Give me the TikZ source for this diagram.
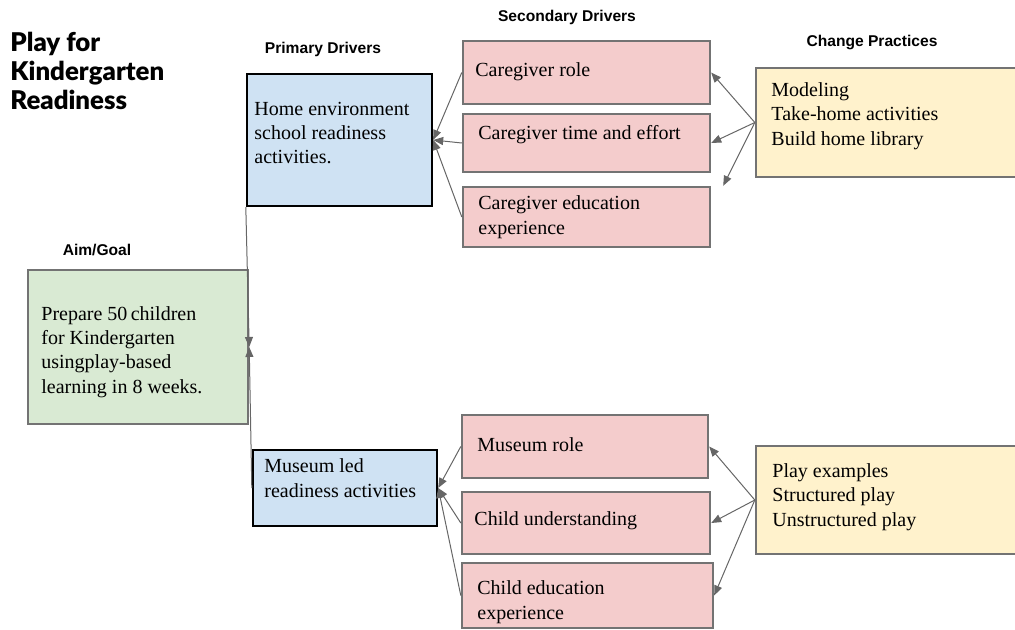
\documentclass[tikz,border=0pt]{standalone}
\usepackage{fontspec}
\setmainfont{Liberation Serif}
\newfontfamily\headfont{Liberation Sans}
\newfontfamily\titlefont{Lato Black}
\usetikzlibrary{arrows.meta}

\definecolor{aimfill}{HTML}{D9EAD3}
\definecolor{primfill}{HTML}{CFE2F3}
\definecolor{secfill}{HTML}{F4CCCC}
\definecolor{chgfill}{HTML}{FFF2CC}
\definecolor{boxgray}{HTML}{737373}
\definecolor{linegray}{HTML}{666666}

\tikzset{
  box/.style={draw, rectangle, line width=1.2pt, inner sep=0pt},
  aimbox/.style={box, draw=boxgray, fill=aimfill},
  primbox/.style={box, draw=black, fill=primfill},
  secbox/.style={box, draw=boxgray, fill=secfill},
  chgbox/.style={box, draw=boxgray, fill=chgfill},
  boxtext/.style={anchor=west, align=left, inner sep=0pt, font=\fontsize{10}{12.2}\selectfont},
  head/.style={font=\headfont\bfseries\fontsize{7.8}{9}\selectfont},
  arr/.style={draw=linegray, line width=0.5pt, -{Triangle[length=5pt,width=4pt]}}
}

\begin{document}
\begin{tikzpicture}[x=0.5pt, y=-0.5pt]
  \clip (0,0) rectangle (1015,630);
  % Headings
  \node[anchor=west, align=left, inner sep=0pt, font=\titlefont\fontsize{12.9}{14.3}\selectfont] (title) at (10,71) {Play for\\Kindergarten\\Readiness};
  \node[head] (aimH) at (97,250) {Aim/Goal};
  \node[head] (primH) at (323,49) {Primary Drivers};
  \node[head] (secH) at (567,17) {Secondary Drivers};
  \node[head] (chgH) at (872,43) {Change Practices};
  % Boxes
  \node[aimbox, minimum width=110pt, minimum height=77pt] (aim) at (138,347) {};
  \node[primbox, minimum width=92.5pt, minimum height=66pt] (home) at (339.5,140) {};
  \node[primbox, minimum width=92pt, minimum height=38pt] (museum) at (345,488) {};
  \node[secbox, minimum width=123.5pt, minimum height=31.5pt] (cr) at (586.5,72.5) {};
  \node[secbox, minimum width=123.5pt, minimum height=29pt] (ct) at (586.5,143) {};
  \node[secbox, minimum width=123.5pt, minimum height=30pt] (ce) at (586.5,217) {};
  \node[secbox, minimum width=123pt, minimum height=31.5pt] (mr) at (585,446.5) {};
  \node[secbox, minimum width=124pt, minimum height=31pt] (cu) at (586,523) {};
  \node[secbox, minimum width=125.5pt, minimum height=32.5pt] (ced) at (587.5,595.5) {};
  \node[chgbox, minimum width=137pt, minimum height=54.5pt] (cp1) at (893,122.5) {};
  \node[chgbox, minimum width=137pt, minimum height=54pt] (cp2) at (893,500) {};
  % Box texts
  \node[boxtext] (aimT) at (41,352) {Prepare 50\,children\\for Kindergarten\\usingplay-based\\learning in 8 weeks.};
  \node[boxtext] (homeT) at (254,133) {Home environment\\school readiness\\activities.};
  \node[boxtext] (museumT) at (264,478) {Museum led\\readiness activities};
  \node[boxtext] (crT) at (475,72) {Caregiver role};
  \node[boxtext] (ctT) at (478,135) {Caregiver time and effort};
  \node[boxtext] (ceT) at (478,217) {Caregiver education\\experience};
  \node[boxtext] (mrT) at (477,445) {Museum role};
  \node[boxtext] (cuT) at (474,521) {Child understanding};
  \node[boxtext] (cedT) at (477,602) {Child education\\experience};
  \node[boxtext] (cp1T) at (771,116) {Modeling\\Take-home activities\\Build home library};
  \node[boxtext] (cp2T) at (772,497) {Play examples\\Structured play\\Unstructured play};
  % Edges
  \draw[arr] (home.south west) -- (aim.east);
  \draw[arr] (museum.west) -- (aim.east);
  \draw[arr] (cr.west) -- (home.east);
  \draw[arr] (ct.west) -- (home.east);
  \draw[arr] (ce.west) -- (home.east);
  \draw[arr] (mr.west) -- (museum.east);
  \draw[arr] (cu.west) -- (museum.east);
  \draw[arr] (ced.west) -- (museum.east);
  \draw[arr] (cp1.west) -- (cr.east);
  \draw[arr] (cp1.west) -- (ct.east);
  \draw[arr] (cp1.west) -- ([xshift=6pt]ce.north east);
  \draw[arr] (cp2.west) -- (mr.east);
  \draw[arr] (cp2.west) -- (cu.east);
  \draw[arr] (cp2.west) -- (ced.east);
\end{tikzpicture}
\end{document}
